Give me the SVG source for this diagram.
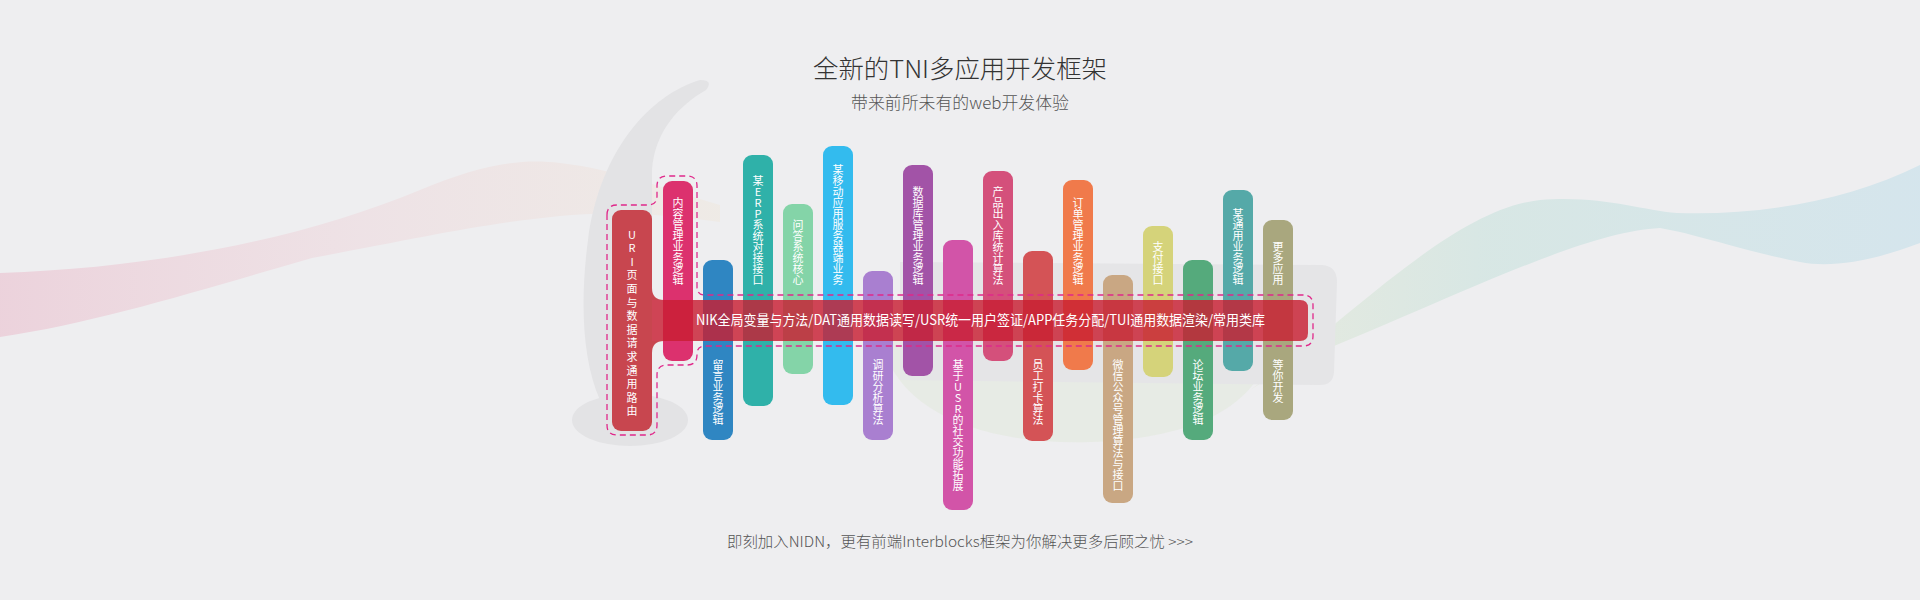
<svg xmlns="http://www.w3.org/2000/svg" width="1920" height="600" viewBox="0 0 1920 600">
<defs>
<style>
.t{font-family:"Noto Sans CJK SC","Noto Sans",sans-serif;}
.vt{font-family:"Noto Sans CJK SC","Noto Sans",sans-serif;font-size:11px;fill:#fff;writing-mode:vertical-rl;text-orientation:upright;text-anchor:start;}
</style>
<linearGradient id="gPink" x1="0" y1="0" x2="1" y2="0">
<stop offset="0" stop-color="#ebc9d5" stop-opacity="0.75"/>
<stop offset="0.5" stop-color="#eed8dd" stop-opacity="0.55"/>
<stop offset="1" stop-color="#efe7dc" stop-opacity="0.5"/>
</linearGradient>
<linearGradient id="gTeal" x1="0" y1="0" x2="1" y2="0">
<stop offset="0" stop-color="#e2e8d8" stop-opacity="0.7"/>
<stop offset="0.35" stop-color="#d5e6e3" stop-opacity="0.9"/>
<stop offset="1" stop-color="#d2e4ec" stop-opacity="0.9"/>
</linearGradient>
</defs>
<rect x="0" y="0" width="1920" height="600" fill="#eeeef0"/>
<g id="background">
<path d="M0 273 C150 268 300 240 420 190 C480 165 520 158 560 163 C620 170 660 188 720 205 L720 222 C650 212 600 212 560 216 C480 224 420 238 312 258 C200 290 100 322 0 337 Z" fill="url(#gPink)"/>
<path d="M1250 390 C1350 320 1450 210 1540 200 C1600 195 1640 210 1677 213 C1760 216 1850 200 1920 165 L1920 243 C1870 262 1830 268 1800 262 C1740 250 1700 235 1660 228 C1580 232 1450 300 1293 363 Z" fill="url(#gTeal)"/>
<path d="M880 330 C890 420 1000 445 1090 442 C1190 438 1265 410 1275 330 Z" fill="#e4e9df" fill-opacity="0.7"/>
<path d="M700 80 C650 95 600 150 588 240 C580 300 582 360 600 400 L652 400 L652 170 C655 130 680 105 706 90 Q714 80 700 80 Z" fill="#e3e3e5"/>
<ellipse cx="630" cy="420" rx="58" ry="26" fill="#e3e3e5"/>
<path d="M900 262 L1322 265 Q1337 266 1337 282 L1334 372 Q1333 386 1318 385 L900 380 Z" fill="#e5e5e7"/>
</g>
<g id="title">
<text class="t" x="960" y="78" font-size="25" fill="#333" text-anchor="middle" font-weight="300" textLength="294" lengthAdjust="spacingAndGlyphs">全新的TNI多应用开发框架</text>
<text class="t" x="960" y="109" font-size="17" fill="#555" text-anchor="middle" font-weight="300" textLength="218" lengthAdjust="spacingAndGlyphs">带来前所未有的web开发体验</text>
</g>
<g id="pills">
<g id="n-uri"><rect x="612" y="210" width="40" height="221" rx="9" fill="#c8464f"/><path d="M652 288 Q652 300 664 300 L652 300 Z M652 353 Q652 341 664 341 L652 341 Z" fill="#c8464f"/></g>
<g id="n-content"><rect x="663" y="181" width="30" height="180" rx="9" fill="#dc316e"/></g>
<g id="n-msg"><rect x="703" y="260" width="30" height="180" rx="9" fill="#2f86c2"/></g>
<g id="n-erp"><rect x="743" y="155" width="30" height="251" rx="9" fill="#2fb1a9"/></g>
<g id="n-qa"><rect x="783" y="204" width="30" height="170" rx="9" fill="#84d4a8"/></g>
<g id="n-mobile"><rect x="823" y="146" width="30" height="259" rx="9" fill="#33bbee"/></g>
<g id="n-research"><rect x="863" y="271" width="30" height="169" rx="9" fill="#a97fd0"/></g>
<g id="n-db"><rect x="903" y="165" width="30" height="211" rx="9" fill="#a253a7"/></g>
<g id="n-social"><rect x="943" y="240" width="30" height="270" rx="9" fill="#d254a8"/></g>
<g id="n-product"><rect x="983" y="171" width="30" height="190" rx="9" fill="#d4507b"/></g>
<g id="n-staff"><rect x="1023" y="251" width="30" height="190" rx="9" fill="#d45356"/></g>
<g id="n-order"><rect x="1063" y="180" width="30" height="190" rx="9" fill="#f07a4b"/></g>
<g id="n-wechat"><rect x="1103" y="275" width="30" height="228" rx="9" fill="#c9a783"/></g>
<g id="n-pay"><rect x="1143" y="226" width="30" height="151" rx="9" fill="#d5d37a"/></g>
<g id="n-forum"><rect x="1183" y="260" width="30" height="180" rx="9" fill="#55aa7c"/></g>
<g id="n-common"><rect x="1223" y="190" width="30" height="181" rx="9" fill="#55a9a8"/></g>
<g id="n-more"><rect x="1263" y="220" width="30" height="200" rx="9" fill="#a9a77e"/></g>
</g>
<g id="n-bar">
<path d="M652 300 H1300 Q1308 300 1308 308 V333 Q1308 341 1300 341 H652 Z" fill="#c81e32" fill-opacity="0.82"/>
<text class="t" x="696" y="325" font-size="14" fill="#fff" textLength="569" lengthAdjust="spacingAndGlyphs">NIK全局变量与方法/DAT通用数据读写/USR统一用户签证/APP任务分配/TUI通用数据渲染/常用类库</text>
</g>
<g id="connectors">
<path d="M607 215 Q607 205 617 205 L648 205 Q657 205 657 196 L657 186 Q657 176 667 176 L687 176 Q697 176 697 186 L697 287 Q697 295 705 295 L1303 295 Q1313 295 1313 305 L1313 336 Q1313 346 1303 346 L705 346 Q697 346 697 354 L697 355 Q697 365 687 365 L667 365 Q657 365 657 375 L657 425 Q657 435 647 435 L617 435 Q607 435 607 425 Z" fill="none" stroke="#e0288a" stroke-width="1.3" stroke-dasharray="6 4"/>
</g>
<g id="pill-texts">
<text class="vt" x="632" y="229 242.6 256.2 269.8 283.4 297 310.6 324.2 337.8 351.4 365 378.6 392.2 405.8" font-size="13">URI页面与数据请求通用路由</text>
<text class="vt" x="678" y="197 208 219 230 241 252 263 274">内容管理业务逻辑</text>
<text class="vt" x="718" y="359 370 381 392 403 414">留言业务逻辑</text>
<text class="vt" x="758" y="175 186 197 208 219 230 241 252 263 274">某ERP系统对接接口</text>
<text class="vt" x="798" y="219 230 241 252 263 274">问答系统核心</text>
<text class="vt" x="838" y="164 175 186 197 208 219 230 241 252 263 274">某移动应用服务器端业务</text>
<text class="vt" x="878" y="359 370 381 392 403 414">调研分析算法</text>
<text class="vt" x="918" y="186 197 208 219 230 241 252 263 274">数据库管理业务逻辑</text>
<text class="vt" x="958" y="359 370 381 392 403 414 425 436 447 458 469 480">基于USR的社交功能拓展</text>
<text class="vt" x="998" y="186 197 208 219 230 241 252 263 274">产品出入库统计算法</text>
<text class="vt" x="1038" y="359 370 381 392 403 414">员工打卡算法</text>
<text class="vt" x="1078" y="197 208 219 230 241 252 263 274">订单管理业务逻辑</text>
<text class="vt" x="1118" y="359 370 381 392 403 414 425 436 447 458 469 480">微信公众号管理算法与接口</text>
<text class="vt" x="1158" y="241 252 263 274">支付接口</text>
<text class="vt" x="1198" y="359 370 381 392 403 414">论坛业务逻辑</text>
<text class="vt" x="1238" y="208 219 230 241 252 263 274">某通用业务逻辑</text>
<text class="vt" x="1278" y="241 252 263 274">更多应用</text>
<text class="vt" x="1278" y="359 370 381 392">等你开发</text>
</g>
<g id="footer">
<text class="t" x="960" y="547" font-size="14.5" fill="#555" text-anchor="middle" font-weight="300" textLength="466" lengthAdjust="spacingAndGlyphs">即刻加入NIDN，更有前端Interblocks框架为你解决更多后顾之忧  &gt;&gt;&gt;</text>
</g>
</svg>
